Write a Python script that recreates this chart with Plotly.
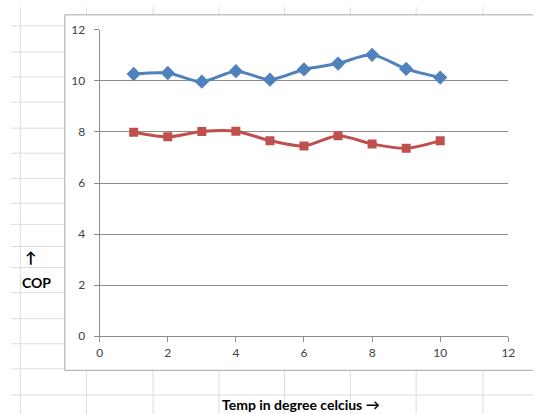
import plotly.graph_objects as go

# ---- data ----
temps = [1, 2, 3, 4, 5, 6, 7, 8, 9, 10]
cop_blue = [10.27, 10.31, 9.97, 10.38, 10.05, 10.45, 10.68, 11.02, 10.47, 10.13]
cop_red = [7.99, 7.81, 8.02, 8.03, 7.66, 7.45, 7.85, 7.53, 7.36, 7.66]
tick_vals = [0, 2, 4, 6, 8, 10, 12]

W, H = 533, 414
SY, OY = 0.961, 8.2


def px(x):
    return x / W


def py(y):
    yd = (y - OY) / SY
    return 1 - yd / H


fig = go.Figure()
fig.add_trace(go.Scatter(
    x=temps, y=cop_blue, mode="lines+markers",
    line=dict(color="#4F81BD", width=3, shape="spline", smoothing=0.8),
    marker=dict(symbol="diamond", size=11, color="#4F81BD"),
    showlegend=False))
fig.add_trace(go.Scatter(
    x=temps, y=cop_red, mode="lines+markers",
    line=dict(color="#C0504D", width=3, shape="spline", smoothing=0.8),
    marker=dict(symbol="square", size=9, color="#C0504D"),
    showlegend=False))

shapes = []
grid_col = "#DCDCDC"
# spreadsheet column lines
for x in [17.7, 85, 153, 220, 287, 354, 421, 489]:
    shapes.append(dict(type="line", xref="paper", yref="paper", layer="below",
                       x0=px(x), x1=px(x), y0=py(7), y1=py(430),
                       line=dict(color=grid_col, width=1)))
# spreadsheet row lines
for y in [26, 52, 77, 102, 128, 153, 178, 203, 224, 246, 267, 292, 318, 343, 368, 394]:
    shapes.append(dict(type="line", xref="paper", yref="paper", layer="below",
                       x0=px(8), x1=px(545), y0=py(y), y1=py(y),
                       line=dict(color=grid_col, width=1)))
# chart frame
shapes.append(dict(type="rect", xref="paper", yref="paper", layer="below",
                   x0=px(63), x1=px(545), y0=py(369.5), y1=py(15),
                   fillcolor="white", line=dict(color="#A6A6A6", width=1)))

annotations = [
    dict(text="<b>↑</b>", x=px(28), y=py(256), xref="paper", yref="paper",
         xanchor="center", yanchor="middle",
         showarrow=False, font=dict(family="Lato", size=15, color="#000000")),
    dict(text="<b>COP</b>", x=px(34), y=py(282), xref="paper", yref="paper",
         xanchor="center", yanchor="middle",
         showarrow=False, font=dict(family="Lato", size=14, color="#000000")),
    dict(text="<b>Temp in degree celcius →</b>", x=px(221), y=py(404),
         xref="paper", yref="paper", xanchor="left", yanchor="middle",
         showarrow=False,
         font=dict(family="Lato", size=14, color="#000000")),
]

axis_common = dict(
    range=[0, 12], tickvals=tick_vals, zeroline=False,
    showline=True, linecolor="#8C8C8C", linewidth=1,
    ticks="outside", ticklen=5, tickcolor="#8C8C8C",
    tickfont=dict(family="Lato", size=12, color="#404040"),
    fixedrange=True,
)

fig.update_layout(
    width=W, height=H,
    margin=dict(l=0, r=0, t=0, b=0),
    paper_bgcolor="white", plot_bgcolor="rgba(0,0,0,0)",
    xaxis=dict(**axis_common, domain=[px(98.5), px(515)], showgrid=False),
    yaxis=dict(**axis_common, domain=[py(335.4), py(30)],
               showgrid=True, gridcolor="#8C8C8C", gridwidth=1,
               ticklabelstandoff=6),
    shapes=shapes, annotations=annotations,
)

fig.write_html(
    "out.html",
    config={"displayModeBar": False},
    post_script=(
        "var gd=document.getElementById('{plot_id}');"
        "gd.style.position='fixed';gd.style.top='0';gd.style.left='0';"
        "document.documentElement.style.margin='0';"
        "document.documentElement.style.overflow='hidden';"
        "document.body.style.margin='0';document.body.style.overflow='hidden';"
    ),
)
